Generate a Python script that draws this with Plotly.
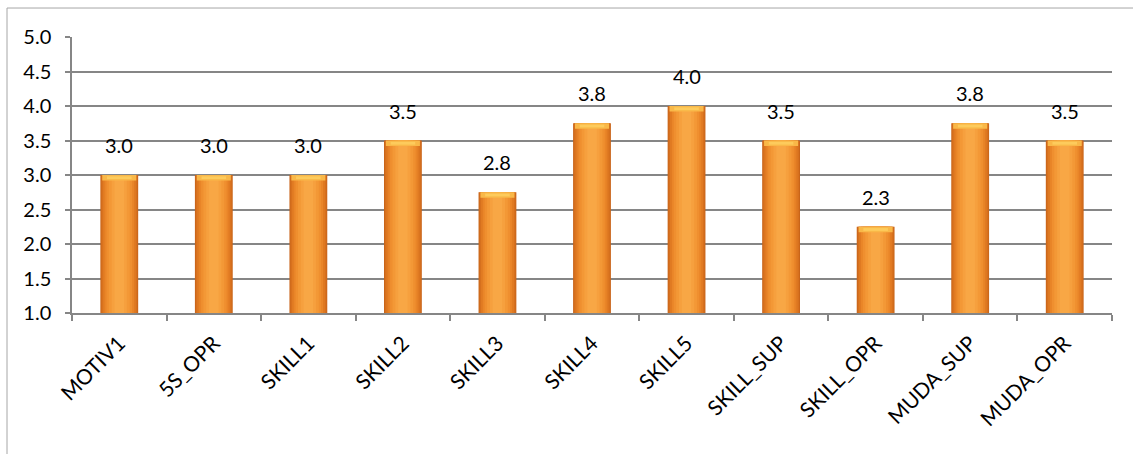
import plotly.graph_objects as go
from decimal import Decimal, ROUND_HALF_UP

# Scores per item
categories = ["MOTIV1", "5S_OPR", "SKILL1", "SKILL2", "SKILL3", "SKILL4",
              "SKILL5", "SKILL_SUP", "SKILL_OPR", "MUDA_SUP", "MUDA_OPR"]
scores = [3.0, 3.0, 3.0, 3.5, 2.75, 3.75, 4.0, 3.5, 2.25, 3.75, 3.5]
y_ticks = [1.0, 1.5, 2.0, 2.5, 3.0, 3.5, 4.0, 4.5, 5.0]

Y_MIN, Y_MAX = 1.0, 5.0
FONT = "Lato"


def one_decimal(v):
    """Round half up to one decimal place, as spreadsheet labels do."""
    return str(Decimal(str(v)).quantize(Decimal("0.1"), rounding=ROUND_HALF_UP))


fig = go.Figure()

# Stacked widths of overlaid bars fake a rounded cylinder:
# dark rim fading to a bright core
layers = [
    (0.40, "#C9651A"),
    (0.38, "#D6701E"),
    (0.35, "#E07A22"),
    (0.31, "#E98528"),
    (0.27, "#EF8F2F"),
    (0.22, "#F39836"),
    (0.16, "#F6A03E"),
    (0.10, "#F8A745"),
]
for width, color in layers:
    fig.add_trace(go.Bar(
        x=categories, y=[v - Y_MIN for v in scores], base=Y_MIN,
        width=width, marker=dict(color=color, line=dict(width=0)),
        hoverinfo="skip", showlegend=False,
    ))

# Bright cap at the top of every bar
cap = 0.08
fig.add_trace(go.Bar(
    x=categories, y=[cap] * len(scores), base=[v - cap for v in scores],
    width=0.36, marker=dict(color="#F9B848", line=dict(width=0)),
    hoverinfo="skip", showlegend=False,
))
fig.add_trace(go.Bar(
    x=categories, y=[cap / 2] * len(scores), base=[v - cap * 0.75 for v in scores],
    width=0.26, marker=dict(color="#FDCB5C", line=dict(width=0)),
    hoverinfo="skip", showlegend=False,
))

# Value labels above the bars
for c, v in zip(categories, scores):
    fig.add_annotation(
        x=c, y=v, text=one_decimal(v), showarrow=False,
        yanchor="bottom", yshift=16,
        font=dict(family=FONT, size=20, color="#000000"),
    )

# Outer chart frame
frame = dict(color="#A6A6A6", width=1)
fig.add_shape(type="line", xref="paper", yref="paper",
              x0=-0.0625, x1=-0.0625, y0=-0.7, y1=1.105, line=frame)
fig.add_shape(type="line", xref="paper", yref="paper",
              x0=-0.0625, x1=1.1, y0=1.105, y1=1.105, line=frame)

fig.update_layout(
    width=1133, height=454,
    margin=dict(l=72, r=21, t=37, b=141),
    paper_bgcolor="white", plot_bgcolor="white",
    barmode="overlay",
    font=dict(family=FONT, color="#000000"),
    xaxis=dict(
        type="category", tickson="boundaries",
        ticks="outside", ticklen=6, tickcolor="#868686", tickwidth=1.5,
        showline=True, linecolor="#868686", linewidth=1.5,
        showgrid=False, tickangle=-45, ticklabelstandoff=8,
        tickfont=dict(family=FONT, size=21, color="#000000"),
    ),
    yaxis=dict(
        range=[Y_MIN, Y_MAX], tickvals=y_ticks,
        ticktext=[one_decimal(t) for t in y_ticks],
        ticks="outside", ticklen=5, tickcolor="#868686", tickwidth=1.5,
        showline=True, linecolor="#868686", linewidth=1.5,
        showgrid=True, gridcolor="#868686", gridwidth=1.5,
        zeroline=False, ticklabelstandoff=10,
        tickfont=dict(family=FONT, size=20, color="#000000"),
    ),
)

fig.write_html("out.html")
